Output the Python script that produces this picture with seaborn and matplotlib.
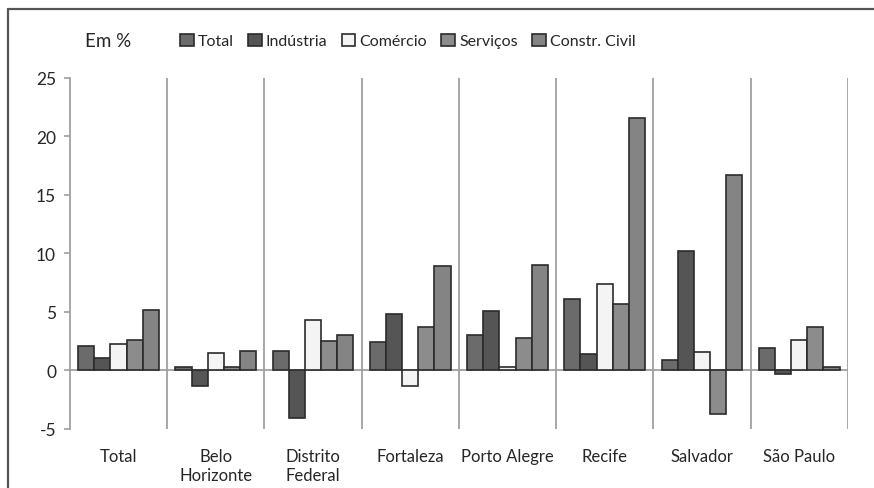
import matplotlib
matplotlib.use('Agg')
import matplotlib.pyplot as plt
from matplotlib.lines import Line2D
import seaborn as sns
import pandas as pd

cities = ['Total', 'Belo\nHorizonte', 'Distrito\nFederal', 'Fortaleza',
          'Porto Alegre', 'Recife', 'Salvador', 'São Paulo']
sectors = ['Total', 'Indústria', 'Comércio', 'Serviços', 'Constr. Civil']

total = [2.1, 0.3, 1.7, 2.4, 3.0, 6.1, 0.9, 1.9]
industria = [1.1, -1.3, -4.1, 4.8, 5.1, 1.4, 10.2, -0.3]
comercio = [2.3, 1.5, 4.3, -1.3, 0.3, 7.4, 1.6, 2.6]
servicos = [2.6, 0.3, 2.5, 3.7, 2.8, 5.7, -3.7, 3.7]
constr = [5.2, 1.7, 3.0, 8.9, 9.0, 21.6, 16.7, 0.3]

colors = ['#6b6b6b', '#555555', '#f4f4f4', '#8c8c8c', '#848484']

rows = []
for name, vals in zip(sectors, [total, industria, comercio, servicos, constr]):
    for c, v in zip(cities, vals):
        rows.append({'cidade': c, 'setor': name, 'valor': v})
df = pd.DataFrame(rows)

sns.set_style('white')
plt.rcParams['font.family'] = ['Lato', 'DejaVu Sans']
plt.rcParams['axes.unicode_minus'] = False

fig = plt.figure(figsize=(8.74, 4.89), dpi=100)
ax = fig.add_axes([0.080, 0.1207, 0.890, 0.7178])

sns.barplot(data=df, x='cidade', y='valor', hue='setor', order=cities,
            hue_order=sectors, palette=colors, width=0.83, gap=0,
            edgecolor='#2b2b2b', linewidth=1.2, ax=ax, legend=True,
            zorder=3)

ax.set_xlim(-0.5, len(cities) - 0.5)
ax.set_ylim(-5, 25)
ax.set_yticks(range(-5, 26, 5))
ax.set_xlabel('')
ax.set_ylabel('')

# separadores entre grupos
for i in range(len(cities)):
    ax.axvline(i + 0.5, color='#a0a0a0', lw=1.3, zorder=1)
ax.axhline(0, color='#a0a0a0', lw=1.3, zorder=2)

for s in ['top', 'right', 'bottom']:
    ax.spines[s].set_visible(False)
ax.spines['left'].set_color('#a0a0a0')
ax.spines['left'].set_linewidth(1.3)

ax.tick_params(axis='y', length=4, color='#a0a0a0', width=1.2,
               labelsize=12.5, pad=6, left=True)
ax.tick_params(axis='x', length=0, labelsize=12, pad=14)

handles, labels = ax.get_legend_handles_labels()
ax.get_legend().remove()
fig.legend(handles, labels, loc='center left',
           bbox_to_anchor=(174 / 874, 1 - 42 / 489), ncol=5, frameon=False,
           fontsize=11.5, handlelength=0.85, handleheight=0.85,
           handletextpad=0.25, columnspacing=0.9, borderaxespad=0)

fig.text(85 / 874, 1 - 42 / 489, 'Em %', fontsize=13.5, va='center')

# moldura
fig.add_artist(Line2D([8 / 874, 1.0], [1 - 10 / 489, 1 - 10 / 489],
                      color='#555555', lw=1.6, transform=fig.transFigure))
fig.add_artist(Line2D([8 / 874, 8 / 874], [0, 1 - 10 / 489],
                      color='#555555', lw=1.6, transform=fig.transFigure))

fig.savefig('out.png', dpi=100)
